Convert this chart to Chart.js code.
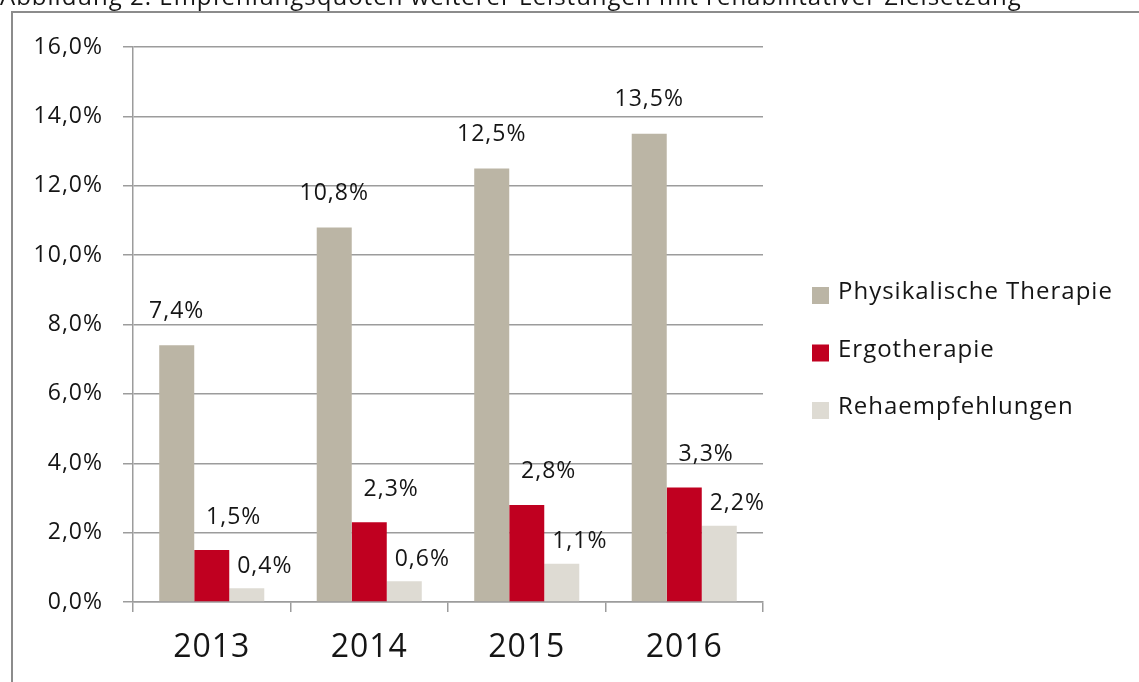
<!DOCTYPE html>
<html>
<head>
<meta charset="utf-8">
<script src="https://cdn.jsdelivr.net/npm/chart.js@4.4.1/dist/chart.umd.min.js"></script>
<style>
  html, body { margin: 0; padding: 0; background: #fff; }
  #wrap { width: 1139px; height: 682px; position: relative; }
  canvas { display: block; }
</style>
</head>
<body>
<div id="wrap"><canvas id="c" width="1139" height="682"></canvas></div>
<script>
const titleText = 'Abbildung 2: Empfehlungsquoten weiterer Leistungen mit rehabilitativer Zielsetzung';
const categories = ['2013', '2014', '2015', '2016'];
const seriesNames = ['Physikalische Therapie', 'Ergotherapie', 'Rehaempfehlungen'];
const physValues = [7.4, 10.8, 12.5, 13.5];
const ergoValues = [1.5, 2.3, 2.8, 3.3];
const rehaValues = [0.4, 0.6, 1.1, 2.2];
const yTicks = [0, 2, 4, 6, 8, 10, 12, 14, 16];

const colors = ['#bbb5a5', '#c00020', '#dedbd3'];
const FONT = '"Open Sans", "Liberation Sans", sans-serif';
const TEXT = '#151515';
const labelOffsets = [ {dx: 0, dy: -34}, {dx: 22, dy: -33}, {dx: 18, dy: -22} ];

function fmt(v, d) { return v.toFixed(d).replace('.', ',') + '%'; }

const spacingPlugin = {
  id: 'spacing',
  beforeInit(chart) { chart.ctx.letterSpacing = '1px'; },
  beforeDraw(chart) { chart.ctx.letterSpacing = '1px'; }
};

const framePlugin = {
  id: 'frame',
  beforeDraw(chart) {
    const ctx = chart.ctx;
    ctx.save();
    ctx.fillStyle = '#fff';
    ctx.fillRect(0, 0, chart.width, chart.height);
    ctx.strokeStyle = '#8c8c8c';
    ctx.lineWidth = 2;
    ctx.beginPath();
    ctx.moveTo(12, chart.height);
    ctx.lineTo(12, 12);
    ctx.lineTo(chart.width, 12);
    ctx.stroke();
    ctx.fillStyle = TEXT;
    ctx.font = '24px ' + FONT;
    ctx.textAlign = 'left';
    ctx.textBaseline = 'alphabetic';
    ctx.fillText(titleText, 0, 5);
    ctx.restore();
  }
};

const labelPlugin = {
  id: 'barLabels',
  afterDatasetsDraw(chart) {
    const ctx = chart.ctx;
    ctx.save();
    ctx.font = '23px ' + FONT;
    ctx.fillStyle = TEXT;
    ctx.textAlign = 'center';
    ctx.textBaseline = 'middle';
    chart.data.datasets.forEach((ds, i) => {
      const meta = chart.getDatasetMeta(i);
      meta.data.forEach((bar, j) => {
        const o = labelOffsets[i];
        ctx.fillText(fmt(ds.data[j], 1), bar.x + o.dx, bar.y + o.dy);
      });
    });
    ctx.restore();
  }
};

const legendPlugin = {
  id: 'customLegend',
  afterDraw(chart) {
    const ctx = chart.ctx;
    ctx.save();
    ctx.font = '24px ' + FONT;
    ctx.textAlign = 'left';
    ctx.textBaseline = 'alphabetic';
    const x0 = 812, base0 = 299, step = 57.5;
    chart.data.datasets.forEach((ds, i) => {
      const base = base0 + i * step;
      ctx.fillStyle = ds.backgroundColor;
      ctx.fillRect(x0, base - 12, 17, 17);
      ctx.fillStyle = TEXT;
      ctx.fillText(ds.label, 838, base);
    });
    ctx.restore();
  }
};

new Chart(document.getElementById('c'), {
  type: 'bar',
  data: {
    labels: categories,
    datasets: [
      { label: seriesNames[0], data: physValues, backgroundColor: colors[0] },
      { label: seriesNames[1], data: ergoValues, backgroundColor: colors[1] },
      { label: seriesNames[2], data: rehaValues, backgroundColor: colors[2] }
    ]
  },
  options: {
    responsive: false,
    animation: false,
    devicePixelRatio: 1,
    layout: { padding: { left: 0, top: 47, right: 376, bottom: 0 } },
    datasets: { bar: { categoryPercentage: 0.667, barPercentage: 1.0, borderWidth: 0 } },
    plugins: { legend: { display: false }, title: { display: false }, tooltip: { enabled: false } },
    scales: {
      x: {
        grid: { display: true, offset: true, drawOnChartArea: false, drawTicks: true, tickLength: 10, color: '#9c9c9c', lineWidth: 1.5 },
        border: { display: true, color: '#9c9c9c', width: 1.5 },
        ticks: { color: TEXT, font: { family: FONT, size: 32 }, padding: 17 },
        afterFit(scale) { scale.height = 80; }
      },
      y: {
        min: 0, max: 16,
        afterBuildTicks(scale) { scale.ticks = yTicks.map(v => ({ value: v })); },
        grid: { color: '#9c9c9c', lineWidth: 1.5, tickLength: 10, drawTicks: true },
        border: { display: true, color: '#9c9c9c', width: 1.5 },
        ticks: { color: TEXT, font: { family: FONT, size: 23 }, padding: 20, callback: v => fmt(v, 1) },
        afterFit(scale) { scale.width = 133; }
      }
    }
  },
  plugins: [spacingPlugin, framePlugin, labelPlugin, legendPlugin]
});
</script>
</body>
</html>
